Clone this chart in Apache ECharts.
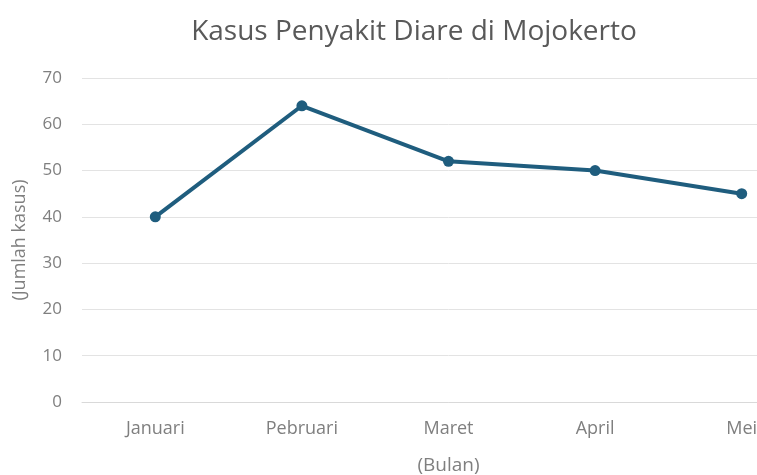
<!DOCTYPE html>
<html><head><meta charset="utf-8">
<script src="https://cdn.jsdelivr.net/npm/echarts@6/dist/echarts.min.js"></script>
<style>html,body{margin:0;padding:0;background:#fff;overflow:hidden;width:757px;height:475px}#c{width:815px;height:475px}</style>
</head><body><div id="c"></div>
<script>
const categories = ['Januari', 'Pebruari', 'Maret', 'April', 'Mei'];
const cases = [40, 64, 52, 50, 45];
const yTicks = { min: 0, max: 70, interval: 10 };

const chart = echarts.init(document.getElementById('c'), null, { renderer: 'canvas' });
chart.setOption({
  animation: false,
  backgroundColor: '#ffffff',
  title: {
    text: 'Kasus Penyakit Diare di Mojokerto',
    left: 409, top: 13, textAlign: 'center',
    textStyle: { fontFamily: 'Open Sans', fontSize: 28, fontWeight: 'normal', color: '#595959' }
  },
  grid: { left: 82, right: 0, top: 78, bottom: 73, containLabel: false, outerBoundsMode: 'none' },
  xAxis: {
    type: 'category', data: categories, boundaryGap: true,
    name: '(Bulan)', nameLocation: 'middle', nameGap: 54,
    nameTextStyle: { fontFamily: 'Open Sans', fontSize: 19, color: '#7f7f7f' },
    axisLine: { show: true, lineStyle: { color: '#d9d9d9', width: 1 } },
    axisTick: { show: false },
    axisLabel: { fontFamily: 'Open Sans', fontSize: 18, color: '#7f7f7f', margin: 18 }
  },
  yAxis: {
    type: 'value', min: yTicks.min, max: yTicks.max, interval: yTicks.interval,
    name: '(Jumlah kasus)', nameLocation: 'middle', nameGap: 53, nameRotate: 90,
    nameTextStyle: { fontFamily: 'Open Sans', fontSize: 18, color: '#7f7f7f' },
    axisLine: { show: false }, axisTick: { show: false },
    axisLabel: { fontFamily: 'Open Sans', fontSize: 17, color: '#7f7f7f', margin: 20 },
    splitLine: { lineStyle: { color: '#e3e3e3', width: 1 } }
  },
  series: [{
    type: 'line', data: cases,
    symbol: 'circle', symbolSize: 11,
    lineStyle: { color: '#1f5d7e', width: 4 },
    itemStyle: { color: '#1f5d7e' }
  }]
});
</script></body></html>
